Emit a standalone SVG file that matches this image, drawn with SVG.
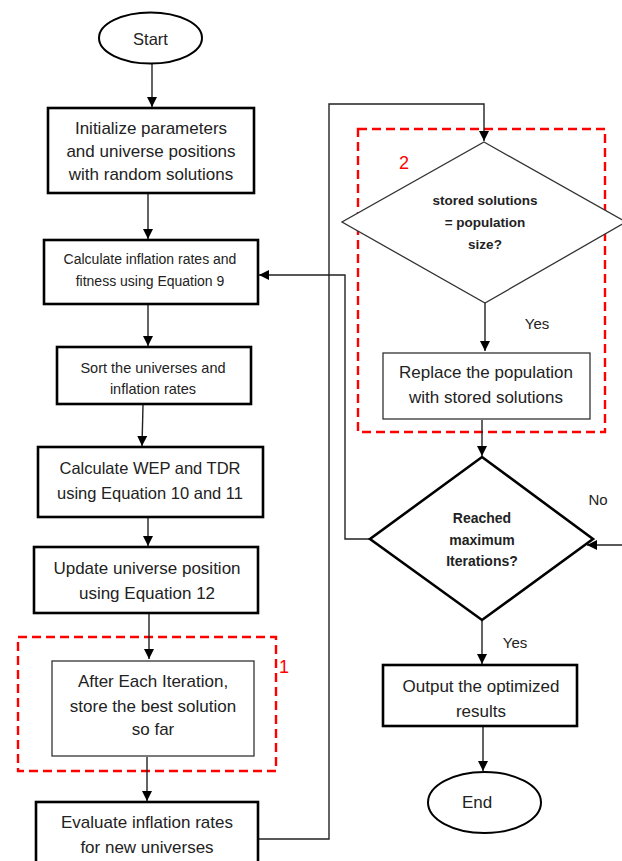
<svg xmlns="http://www.w3.org/2000/svg" width="622" height="861" viewBox="0 0 622 861">
<defs>
<marker id="ah" viewBox="0 0 10 10" refX="10" refY="5" markerWidth="10" markerHeight="10" markerUnits="userSpaceOnUse" orient="auto">
<path d="M0,0 L10,5 L0,10 z" fill="#000"/>
</marker>
<style>
.thick{fill:#fff;stroke:#000;stroke-width:2.6}
.thin{fill:#fff;stroke:#333;stroke-width:1.3}
.ell{fill:#fff;stroke:#000;stroke-width:2}
.red{fill:none;stroke:#f00;stroke-width:2.4;stroke-dasharray:9 5}
.c{fill:none;stroke:#222;stroke-width:1.4}
text{font-family:"Liberation Sans",Arial,sans-serif;fill:#222;text-anchor:middle;dominant-baseline:central}
.t17{font-size:17px}
.b{font-weight:bold;font-size:13.5px}
.lbl{font-size:15px}
.rn{fill:#f00;font-size:18px}
</style>
</defs>
<rect width="622" height="861" fill="#fff"/>

<g id="group1"><rect class="red" x="18" y="637" width="258" height="134"/><text class="rn" x="284" y="667">1</text></g>
<g id="group2"><rect class="red" x="358" y="129" width="247" height="303"/><text class="rn" x="404" y="163">2</text></g>

<g id="connectors">
<line class="c" x1="152" y1="63" x2="152" y2="107" marker-end="url(#ah)"/>
<line class="c" x1="148" y1="194" x2="148" y2="239" marker-end="url(#ah)"/>
<line class="c" x1="148" y1="305" x2="148" y2="346" marker-end="url(#ah)"/>
<line class="c" x1="143" y1="405" x2="142" y2="446" marker-end="url(#ah)"/>
<line class="c" x1="148" y1="518" x2="148" y2="546" marker-end="url(#ah)"/>
<line class="c" x1="149" y1="614" x2="149" y2="659" marker-end="url(#ah)"/>
<line class="c" x1="147" y1="757" x2="147" y2="801" marker-end="url(#ah)"/>
<polyline class="c" points="258,839 329,839 329,104 484,104 484,141" marker-end="url(#ah)"/>
<polyline class="c" points="370,539 345,539 345,275 259,275" marker-end="url(#ah)"/>
<line class="c" x1="485" y1="303" x2="485" y2="351" marker-end="url(#ah)"/>
<line class="c" x1="482" y1="420" x2="482" y2="456" marker-end="url(#ah)"/>
<line class="c" x1="622" y1="545" x2="587" y2="545" marker-end="url(#ah)"/>
<line class="c" x1="482" y1="621" x2="482" y2="664" marker-end="url(#ah)"/>
<line class="c" x1="483" y1="727" x2="483" y2="771" marker-end="url(#ah)"/>
<text class="lbl" x="537" y="323">Yes</text>
<text class="lbl" x="598" y="499">No</text>
<text class="lbl" x="515" y="642">Yes</text>
</g>

<g id="start"><ellipse class="ell" cx="150.5" cy="38" rx="51.5" ry="25.5"/><text x="150.5" y="39" style="font-size:16.5px">Start</text></g>

<g id="init"><rect class="thick" x="48" y="108" width="206" height="85"/>
<text class="t17" x="151" y="128">Initialize parameters</text>
<text class="t17" x="151" y="151">and universe positions</text>
<text class="t17" x="151" y="174">with random solutions</text></g>

<g id="calcInfl"><rect class="thick" x="44" y="240" width="214" height="64"/>
<text x="150" y="259" style="font-size:14px">Calculate inflation rates and</text>
<text x="150" y="281" style="font-size:14px">fitness using Equation 9</text></g>

<g id="sort"><rect class="thick" x="57" y="347" width="194" height="57"/>
<text x="153" y="368" style="font-size:14.5px">Sort the universes and</text>
<text x="153" y="389" style="font-size:14.5px">inflation rates</text></g>

<g id="wep"><rect class="thick" x="38" y="447" width="225" height="70"/>
<text x="150" y="468" style="font-size:16.5px">Calculate WEP and TDR</text>
<text x="150" y="493" style="font-size:16.5px">using Equation 10 and 11</text></g>

<g id="update"><rect class="thick" x="34" y="547" width="224" height="66"/>
<text class="t17" x="147" y="568">Update universe position</text>
<text class="t17" x="147" y="593">using Equation 12</text></g>

<g id="store"><rect class="thin" x="52" y="661" width="202" height="95"/>
<text class="t17" x="153" y="681">After Each Iteration,</text>
<text class="t17" x="153" y="706">store the best solution</text>
<text class="t17" x="153" y="729">so far</text></g>

<g id="evaluate"><rect class="thick" x="36" y="802" width="222" height="70"/>
<text class="t17" x="147" y="822">Evaluate inflation rates</text>
<text class="t17" x="147" y="847">for new universes</text></g>

<g id="storedCheck"><polygon class="thin" points="484,142 626,222 485,303 342,222"/>
<text class="b" x="485" y="200">stored solutions</text>
<text class="b" x="485" y="222">= population</text>
<text class="b" x="485" y="244">size?</text></g>

<g id="replace"><rect class="thin" x="383" y="353" width="207" height="66"/>
<text class="t17" x="486" y="372">Replace the population</text>
<text class="t17" x="486" y="397">with stored solutions</text></g>

<g id="maxIter"><polygon class="thick" points="482,457 593,539 482,620 370,539"/>
<text class="b" x="482" y="518" style="font-size:14px">Reached</text>
<text class="b" x="482" y="540" style="font-size:14px">maximum</text>
<text class="b" x="482" y="561" style="font-size:14px">Iterations?</text></g>

<g id="output"><rect class="thick" x="383" y="665" width="194" height="61"/>
<text class="t17" x="481" y="686">Output the optimized</text>
<text class="t17" x="481" y="711">results</text></g>

<g id="end"><ellipse class="ell" cx="484.5" cy="802.5" rx="56.5" ry="30.5"/><text class="t17" x="477" y="802">End</text></g>
</svg>
